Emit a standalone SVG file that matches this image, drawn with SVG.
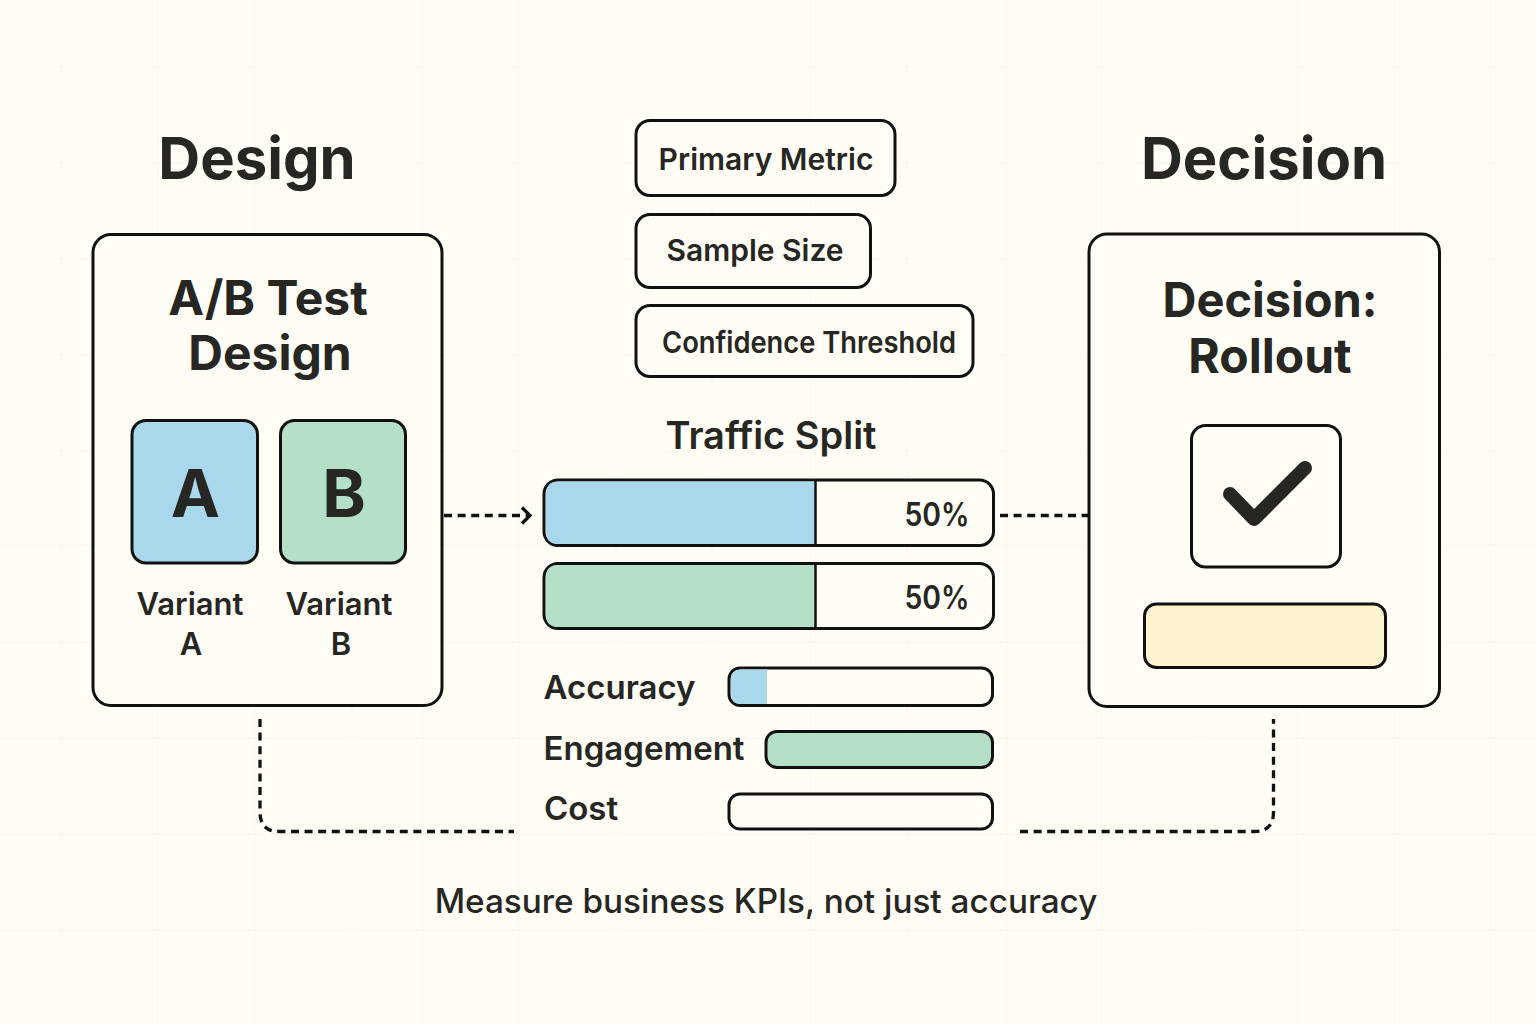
<svg xmlns="http://www.w3.org/2000/svg" width="1536" height="1024" viewBox="0 0 1536 1024">
<style>
text{font-family:Inter,"Liberation Sans",sans-serif;fill:#262622;font-weight:600;text-anchor:middle}
.box{fill:#fffdf6;stroke:#111;stroke-width:3}
.thin{fill:none;stroke:#111;stroke-width:2.5}
.dash{fill:none;stroke:#111;stroke-width:3.300;stroke-dasharray:8 5.600}
.grid{stroke:#fbf8ee;stroke-width:1.500;fill:none}
.blue{fill:#a9d8ec}.green{fill:#b3e0c6}
.h1{font-size:58px;font-weight:700}
.h2{font-size:48px;font-weight:700}
.pill{font-size:30px}
.lab{font-size:33px}
.var{font-size:31px}
.bar{font-size:32px}
.big{font-size:66px;font-weight:700}
</style>
<defs><marker id="arrow" markerUnits="userSpaceOnUse" markerWidth="16" markerHeight="20" refX="11" refY="10" orient="auto"><path d="M3 2 L11 10 L3 18" fill="none" stroke="#111" stroke-width="3.300"/></marker></defs>
<rect width="1536" height="1024" fill="#fffdf6"/>
<g id="grid"><path class="grid" d="M61 0V1024M158 0V1024M255 0V1024M352 0V1024M423 0V1024M519 0V1024M616 0V1024M712 0V1024M810 0V1024M907 0V1024M1007 0V1024M1102 0V1024M1200 0V1024M1297 0V1024M1394 0V1024M1490 0V1024M0 67H1536M0 163H1536M0 259H1536M0 355H1536M0 451H1536M0 545H1536M0 642H1536M0 738H1536M0 834H1536M0 930H1536"/></g>
<g id="connectors">
<path class="dash" d="M444 515.500H530" marker-end="url(#arrow)"/>
<path class="dash" d="M1000 515.500H1088"/>
<path class="dash" d="M260 719V812Q260 831.500 279 831.500H514"/>
<path class="dash" d="M1020 831.500H1254Q1273.500 831.500 1273.500 812V719"/>
</g>
<text id="title-design" class="h1" x="257" y="179">Design</text>
<text id="title-decision" class="h1" x="1264" y="179">Decision</text>
<g id="node-ab-design">
<rect class="box" x="93" y="234.500" width="349" height="471" rx="18"/>
<text class="h2" x="268" y="315">A/B Test</text>
<text class="h2" x="270" y="370">Design</text>
</g>
<g id="node-variant-a">
<rect class="blue" x="132" y="420.500" width="125.500" height="142.500" rx="14" stroke="#111" stroke-width="3"/>
<text class="big" x="195.500" y="517">A</text>
<text class="var" x="190" y="615">Variant</text>
<text class="var" x="191" y="655">A</text>
</g>
<g id="node-variant-b">
<rect class="green" x="280.500" y="420.500" width="125" height="142.500" rx="14" stroke="#111" stroke-width="3"/>
<text class="big" x="344" y="517">B</text>
<text class="var" x="339" y="615">Variant</text>
<text class="var" x="341" y="655">B</text>
</g>
<g id="node-primary-metric"><rect class="box" x="636" y="120.500" width="259" height="75" rx="14"/><text class="pill" x="766" y="170">Primary Metric</text></g>
<g id="node-sample-size"><rect class="box" x="636" y="214.500" width="234.500" height="73" rx="14"/><text class="pill" x="755" y="261">Sample Size</text></g>
<g id="node-confidence"><rect class="box" x="636" y="305.500" width="337" height="71" rx="14"/><text class="pill" x="809" y="353" textLength="294" lengthAdjust="spacingAndGlyphs">Confidence Threshold</text></g>
<text id="traffic-split" x="771" y="449" font-size="38">Traffic Split</text>
<g id="node-split-a">
<rect class="box" x="544" y="480" width="449.500" height="65.500" rx="14"/>
<path class="blue" d="M546 494Q546 481.500 558 481.500H815V544H558Q546 544 546 532Z"/>
<path class="thin" d="M815.500 480V545"/>
<text class="bar" x="937" y="526" textLength="65" lengthAdjust="spacingAndGlyphs">50%</text>
</g>
<g id="node-split-b">
<rect class="box" x="544" y="563.500" width="449.500" height="65" rx="14"/>
<path class="green" d="M546 577Q546 565 558 565H815V627H558Q546 627 546 615Z"/>
<path class="thin" d="M815.500 563V628"/>
<text class="bar" x="937" y="609" textLength="65" lengthAdjust="spacingAndGlyphs">50%</text>
</g>
<g id="node-accuracy">
<text class="lab" x="619.500" y="699">Accuracy</text>
<rect class="box" x="729" y="668" width="263.500" height="37.500" rx="11"/>
<path class="blue" d="M731 679Q731 669.500 741 669.500H767V704H741Q731 704 731 694Z"/>
</g>
<g id="node-engagement">
<text class="lab" x="644" y="760">Engagement</text>
<rect class="green" x="766" y="731.500" width="226.500" height="36" rx="11" stroke="#111" stroke-width="3"/>
</g>
<g id="node-cost">
<text class="lab" x="581" y="820">Cost</text>
<rect class="box" x="729" y="794" width="263.500" height="35" rx="11"/>
</g>
<g id="node-decision">
<rect class="box" x="1089" y="234" width="350.500" height="472.500" rx="18"/>
<text class="h2" x="1270" y="317" textLength="215" lengthAdjust="spacingAndGlyphs">Decision:</text>
<text class="h2" x="1270" y="373">Rollout</text>
<rect class="box" x="1191.500" y="425.500" width="149" height="141.500" rx="14"/>
<path d="M1230 494L1254 519L1305 468" fill="none" stroke="#262622" stroke-width="14" stroke-linecap="round" stroke-linejoin="round"/>
<rect x="1144.500" y="604" width="241" height="63.500" rx="12" fill="#fdf3cf" stroke="#111" stroke-width="3"/>
</g>
<text id="caption" x="766" y="913" font-size="33.300" style="font-weight:500">Measure business KPIs, not just accuracy</text>
</svg>
